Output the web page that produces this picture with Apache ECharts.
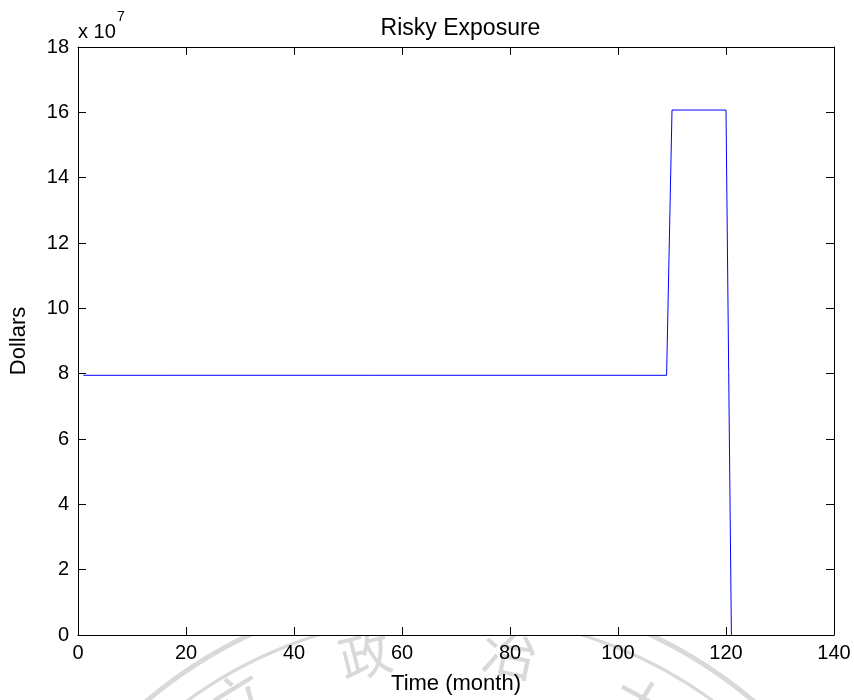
<!DOCTYPE html>
<html>
<head>
<meta charset="utf-8">
<script src="https://cdn.jsdelivr.net/npm/echarts@6/dist/echarts.min.js"></script>
<style>
html,body{margin:0;padding:0;background:#fff;}
#chart{width:854px;height:700px;}
</style>
</head>
<body>
<div id="chart"></div>
<script>
// Data (exposure in units of 10^7 dollars)
const months = [1, 109, 110, 120, 121];
const exposureE7 = [7.95, 7.95, 16.07, 16.07, 0];
const xTicks = [0, 20, 40, 60, 80, 100, 120, 140];
const yTicks = [0, 2, 4, 6, 8, 10, 12, 14, 16, 18];
const titleText = 'Risky Exposure';
const xLabel = 'Time (month)';
const yLabel = 'Dollars';

const FONT = '"Liberation Sans", Arial, Helvetica, sans-serif';
const chart = echarts.init(document.getElementById('chart'), null, {renderer: 'canvas'});

const points = months.map((m, i) => [m, exposureE7[i]]);

const tickStyle = {show: true, inside: true, length: 8, lineStyle: {color: '#000', width: 1}};
const lineStyleAxis = {show: true, onZero: false, lineStyle: {color: '#000', width: 1}};

const wm = '#d9d9d9';
const option = {
  backgroundColor: '#fff',
  animation: false,
  title: {
    text: titleText,
    left: 455.5, top: 12, textAlign: 'center',
    textStyle: {fontFamily: FONT, fontSize: 23, fontWeight: 'normal', color: '#000'}
  },
  grid: {left: 77, top: 47, right: 20, bottom: 65, show: true, backgroundColor: '#fff', borderWidth: 0, z: 0},
  graphic: [
    {type: 'circle', shape: {cx: 450, cy: 1060, r: 470}, style: {fill: null, stroke: wm, lineWidth: 5}, z: -10, silent: true},
    {type: 'circle', shape: {cx: 450, cy: 1060, r: 445}, style: {fill: null, stroke: wm, lineWidth: 3}, z: -10, silent: true},
    {type: 'text', x: 365, y: 655, rotation: 0.25, style: {text: '政', fill: wm, font: '52px "Noto Sans CJK TC"', align: 'center', verticalAlign: 'middle'}, z: -10, silent: true},
    {type: 'text', x: 510, y: 652, rotation: -0.2, style: {text: '治', fill: wm, font: '56px "Noto Sans CJK TC"', align: 'center', verticalAlign: 'middle'}, z: -10, silent: true},
    {type: 'text', x: 240, y: 700, rotation: 0.55, style: {text: '立', fill: wm, font: '56px "Noto Sans CJK TC"', align: 'center', verticalAlign: 'middle'}, z: -10, silent: true},
    {type: 'text', x: 640, y: 705, rotation: -0.5, style: {text: '大', fill: wm, font: '56px "Noto Sans CJK TC"', align: 'center', verticalAlign: 'middle'}, z: -10, silent: true},
    {type: 'text', left: 78, top: 22, style: {text: 'x 10', fill: '#000', font: '20px ' + FONT}, z: 10},
    {type: 'text', left: 117, top: 10, style: {text: '7', fill: '#000', font: '14px ' + FONT}, z: 10}
  ],
  xAxis: [
    {
      type: 'value', position: 'bottom', min: xTicks[0], max: xTicks[xTicks.length - 1], interval: xTicks[1] - xTicks[0], z: 5,
      axisLine: lineStyleAxis, axisTick: tickStyle, splitLine: {show: false},
      axisLabel: {fontFamily: FONT, fontSize: 20, color: '#000', margin: 8},
      name: xLabel, nameLocation: 'middle', nameGap: 38,
      nameTextStyle: {fontFamily: FONT, fontSize: 22, color: '#000'}
    },
    {
      type: 'value', position: 'top', min: xTicks[0], max: xTicks[xTicks.length - 1], interval: xTicks[1] - xTicks[0], z: 5,
      axisLine: lineStyleAxis, axisTick: tickStyle, splitLine: {show: false}, axisLabel: {show: false}
    }
  ],
  yAxis: [
    {
      type: 'value', position: 'left', min: yTicks[0], max: yTicks[yTicks.length - 1], interval: yTicks[1] - yTicks[0], z: 5,
      axisLine: lineStyleAxis, axisTick: tickStyle, splitLine: {show: false},
      axisLabel: {fontFamily: FONT, fontSize: 20, color: '#000', margin: 9},
      name: yLabel, nameLocation: 'middle', nameGap: 48, nameRotate: 90,
      nameTextStyle: {fontFamily: FONT, fontSize: 22, color: '#000'}
    },
    {
      type: 'value', position: 'right', min: yTicks[0], max: yTicks[yTicks.length - 1], interval: yTicks[1] - yTicks[0], z: 5,
      axisLine: lineStyleAxis, axisTick: tickStyle, splitLine: {show: false}, axisLabel: {show: false}
    }
  ],
  series: [{
    type: 'line', xAxisIndex: 0, yAxisIndex: 0,
    data: points, showSymbol: false, symbol: 'none',
    lineStyle: {color: '#0000ff', width: 1}, z: 4
  }]
};
chart.setOption(option);
</script>
</body>
</html>
